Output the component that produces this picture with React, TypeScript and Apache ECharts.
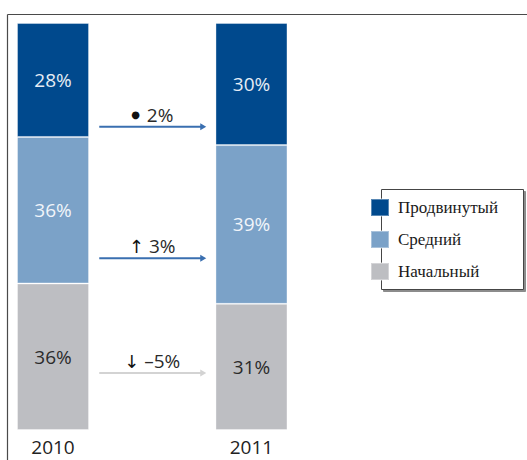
import React, { useEffect, useRef } from "react";
import * as echarts from "echarts";

const years = ["2010", "", "2011"];
const seriesNames = ["Начальный", "Средний", "Продвинутый"];
const beginner = [36, null, 31];
const middle = [36, null, 39];
const advanced = [28, null, 30];
const legendOrder = ["Продвинутый", "Средний", "Начальный"];
const colors = { advanced: "#00498d", middle: "#7ba2c8", beginner: "#bdbec2" };
const labelColors = { advanced: "#e6edf5", middle: "#f1f5fa", beginner: "#2b2b2b" };
// change arrows: level on the value axis, symbol, colour
const arrowLevels = [74.5, 42.2, 14.0];
const arrowSymbols = ["●", "↑", "↓"];
const arrowColors = ["#3a6fb0", "#3a6fb0", "#d3d3d3"];

export default function App() {
  const ref = useRef<HTMLDivElement>(null);
  useEffect(() => {
    if (!ref.current) return;
    const chart = echarts.init(ref.current, null, { renderer: "svg" });
    const deltas = [
      (advanced[2] as number) - (advanced[0] as number),
      (middle[2] as number) - (middle[0] as number),
      (beginner[2] as number) - (beginner[0] as number),
    ];
    const arrowTexts = deltas.map((d, i) =>
      `{s${i}|${arrowSymbols[i]}} ${d < 0 ? "–" + Math.abs(d) : d}%`
    );
    const mkLabel = (color: string) => ({
      show: true,
      position: "inside",
      formatter: (p: any) => `${p.value}%`,
      color,
      fontFamily: "Open Sans",
      fontSize: 19,
    });
    const barBase = {
      type: "bar",
      stack: "total",
      barWidth: 72,
      itemStyle: { borderColor: "rgba(255,255,255,0.35)", borderWidth: 1 },
    };
    chart.setOption({
      animation: false,
      grid: { left: 3.4, right: 225.9, top: 23, bottom: 30 },
      xAxis: {
        type: "category",
        data: years,
        axisLine: { show: false },
        axisTick: { show: false },
        axisLabel: {
          color: "#222",
          fontFamily: "Open Sans",
          fontSize: 19,
          margin: 7,
          interval: 0,
        },
      },
      yAxis: { type: "value", min: 0, max: 100, show: false, splitLine: { show: false } },
      legend: {
        data: legendOrder,
        orient: "vertical",
        left: 370,
        top: 198,
        padding: 0,
        itemWidth: 18,
        itemHeight: 17,
        itemGap: 13,
        icon: "rect",
        z: 10,
        textStyle: { fontFamily: "Liberation Serif", fontSize: 17, color: "#1a1a1a", padding: [0, 0, 0, 4] },
        selectedMode: false,
      },
      graphic: [
        {
          type: "line",
          shape: { x1: 7.5, y1: 14.5, x2: 527, y2: 14.5 },
          style: { stroke: "#4a4a4a", lineWidth: 1.2 },
        },
        {
          type: "line",
          shape: { x1: 7.5, y1: 14.5, x2: 7.5, y2: 460 },
          style: { stroke: "#4a4a4a", lineWidth: 1.2 },
        },
        {
          type: "rect",
          z: 1,
          shape: { x: 381.5, y: 189.5, width: 142, height: 100 },
          style: {
            fill: "#fff",
            stroke: "#444",
            lineWidth: 1,
            shadowColor: "rgba(0,0,0,0.45)",
            shadowOffsetX: 2,
            shadowOffsetY: 2,
            shadowBlur: 1,
          },
        },
      ],
      series: [
        { ...barBase, name: seriesNames[0], data: beginner, itemStyle: { ...barBase.itemStyle, color: colors.beginner }, label: mkLabel(labelColors.beginner) },
        { ...barBase, name: seriesNames[1], data: middle, itemStyle: { ...barBase.itemStyle, color: colors.middle }, label: mkLabel(labelColors.middle) },
        { ...barBase, name: seriesNames[2], data: advanced, itemStyle: { ...barBase.itemStyle, color: colors.advanced }, label: mkLabel(labelColors.advanced) },
        {
          type: "custom",
          name: "change",
          data: arrowLevels.map((lv, i) => [1, lv, i]),
          encode: { x: 0, y: 1 },
          z: 5,
          renderItem: (params: any, api: any) => {
            const idx = api.value(2);
            const [cx, cy] = api.coord([api.value(0), api.value(1)]);
            const x1 = cx - 53;
            const x2 = cx + 54;
            const col = arrowColors[idx];
            return {
              type: "group",
              children: [
                {
                  type: "line",
                  shape: { x1, y1: cy, x2: x2 - 5, y2: cy },
                  style: { stroke: col, lineWidth: 2 },
                },
                {
                  type: "polygon",
                  shape: { points: [[x2 - 6, cy - 3.5], [x2, cy], [x2 - 6, cy + 3.5]] },
                  style: { fill: col },
                },
                {
                  type: "text",
                  style: {
                    text: arrowTexts[idx],
                    x: cx,
                    y: cy - 12,
                    align: "center",
                    verticalAlign: "middle",
                    fill: "#2a2a2a",
                    fontFamily: "Open Sans",
                    fontSize: 19,
                    rich: {
                      s0: { fontSize: 10, fill: "#111", fontFamily: "DejaVu Sans", padding: [0, 2, 0, 0] },
                      s1: { fontSize: 18, fill: "#111", fontFamily: "DejaVu Sans" },
                      s2: { fontSize: 18, fill: "#111", fontFamily: "DejaVu Sans" },
                    },
                  },
                },
              ],
            };
          },
        },
      ],
    });
    return () => chart.dispose();
  }, []);
  return (
    <div
      ref={ref}
      style={{ position: "fixed", left: 0, top: 0, width: 527, height: 460, background: "#fff" }}
    />
  );
}
